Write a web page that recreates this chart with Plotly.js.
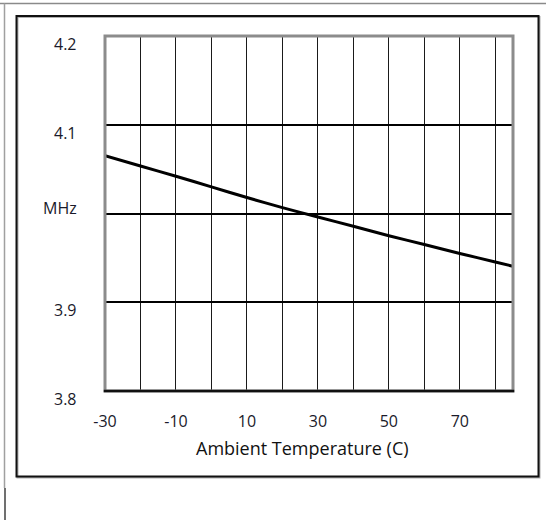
<!DOCTYPE html>
<html>
<head>
<meta charset="utf-8">
<script src="https://cdn.plot.ly/plotly-3.0.1.min.js"></script>
<style>html,body{margin:0;padding:0;background:#fff;}#chart{width:546px;height:520px;}</style>
</head>
<body>
<div id="chart"></div>
<script>
// Data
const temperatureC = [-30, -20, -10, 0, 10, 20, 30, 40, 50, 60, 70, 80, 85];
const frequencyMHz = [4.065, 4.0535, 4.042, 4.030, 4.018, 4.0066, 3.996, 3.9856, 3.975, 3.965, 3.955, 3.9454, 3.9405];

const xTickVals = [-30, -20, -10, 0, 10, 20, 30, 40, 50, 60, 70, 80];
const xTickText = ['-30', '', '-10', '', '10', '', '30', '', '50', '', '70', ''];
const yTickVals = [3.8, 3.9, 4.0, 4.1, 4.2];
const yTickText = ['3.8', '3.9', 'MHz', '4.1', '4.2'];
const xTitle = 'Ambient Temperature (C)';

const FONT = '"Open Sans", Lato, sans-serif';
const W = 546, H = 520;
const M = {l: 105, r: 33, t: 36, b: 129};
const PW = W - M.l - M.r, PH = H - M.t - M.b;
const px = v => (v - M.l) / PW;          // pixel x -> paper x
const py = v => (H - M.b - v) / PH;      // pixel y -> paper y

const shapes = [
  // outer page lines
  {type: 'line', xref: 'paper', yref: 'paper', x0: px(0), x1: px(546), y0: py(3.5), y1: py(3.5), line: {color: '#8a8a8a', width: 1.5}},
  {type: 'line', xref: 'paper', yref: 'paper', x0: px(4.5), x1: px(4.5), y0: py(3.5), y1: py(488), line: {color: '#a0a0a0', width: 1.5}},
  {type: 'line', xref: 'paper', yref: 'paper', x0: px(5), x1: px(5), y0: py(488), y1: py(520), line: {color: '#707070', width: 2}},
  // inner box shadow + box
  {type: 'rect', xref: 'paper', yref: 'paper', x0: px(17.5), x1: px(539.5), y0: py(17), y1: py(477.5), line: {color: '#b0b0b0', width: 2}},
  {type: 'rect', xref: 'paper', yref: 'paper', x0: px(16.5), x1: px(538.5), y0: py(16), y1: py(476.5), line: {color: '#111', width: 2}},
  // plot frame
  {type: 'rect', xref: 'paper', yref: 'paper', x0: 0, x1: 1, y0: 0, y1: 1, line: {color: '#8c8c8c', width: 3}, layer: 'above'},
  {type: 'line', xref: 'paper', yref: 'paper', x0: -0.003, x1: 1.003, y0: 0, y1: 0, line: {color: '#111', width: 2.5}, layer: 'above'}
];

const annotations = yTickVals.map((v, i) => ({
  xref: 'paper', yref: 'y', x: 0, y: v,
  xanchor: 'right', yanchor: 'middle',
  xshift: -26, yshift: (yTickText[i] === 'MHz' ? 6 : -8),
  text: yTickText[i], showarrow: false,
  font: {family: FONT, size: 16, color: '#1a1a2a'}
}));
annotations.push({
  xref: 'paper', yref: 'paper', x: px(302), y: py(448),
  xanchor: 'center', yanchor: 'middle',
  text: xTitle, showarrow: false,
  font: {family: FONT, size: 18, color: '#111'}
});

const trace = {
  x: temperatureC, y: frequencyMHz, type: 'scatter', mode: 'lines',
  line: {color: '#000', width: 3, shape: 'spline', smoothing: 0.6},
  hoverinfo: 'skip', showlegend: false
};

const layout = {
  width: W, height: H,
  margin: M,
  paper_bgcolor: '#fff', plot_bgcolor: '#fff',
  showlegend: false,
  font: {family: FONT},
  xaxis: {
    range: [-30, 85], tickmode: 'array', tickvals: xTickVals, ticktext: xTickText,
    showgrid: true, gridcolor: '#1a1a1a', gridwidth: 1, zeroline: false,
    showline: false, ticks: '', ticklabelstandoff: 19,
    tickfont: {family: FONT, size: 16, color: '#1a1a2a'}, fixedrange: true
  },
  yaxis: {
    range: [3.8, 4.2], tickmode: 'array', tickvals: yTickVals,
    showticklabels: false, showgrid: true, gridcolor: '#000', gridwidth: 2,
    zeroline: false, showline: false, ticks: '', fixedrange: true
  },
  shapes: shapes,
  annotations: annotations
};

Plotly.newPlot('chart', [trace], layout, {staticPlot: true, displayModeBar: false});
</script>
</body>
</html>
